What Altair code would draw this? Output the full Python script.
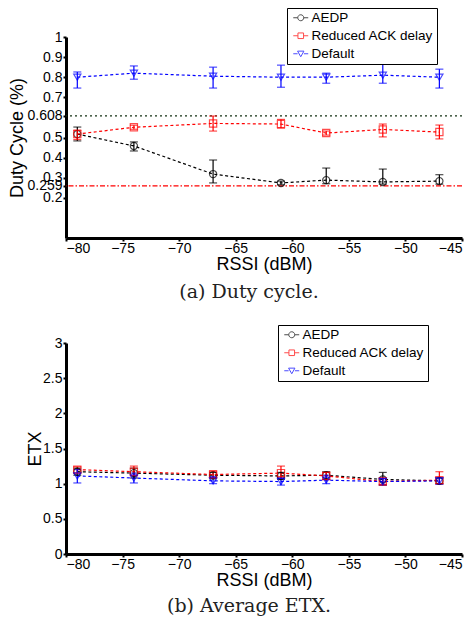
import altair as alt
import pandas as pd

# ---------------- data ----------------
rssi = [-79, -74, -67, -61, -57, -52, -47]
series_names = ["AEDP", "Reduced ACK delay", "Default"]
series_colors = ["#000000", "#ff0000", "#0000ff"]

# Duty cycle panel
dc_aedp = [0.517, 0.458, 0.318, 0.274, 0.288, 0.279, 0.283]
dc_aedp_lo = [0.483, 0.433, 0.274, 0.265, 0.270, 0.268, 0.268]
dc_aedp_hi = [0.552, 0.478, 0.388, 0.283, 0.348, 0.343, 0.315]
dc_ack = [0.517, 0.551, 0.570, 0.567, 0.522, 0.540, 0.527]
dc_ack_lo = [0.490, 0.541, 0.532, 0.547, 0.512, 0.503, 0.493]
dc_ack_hi = [0.537, 0.561, 0.607, 0.590, 0.532, 0.567, 0.562]
dc_def = [0.800, 0.820, 0.805, 0.800, 0.800, 0.810, 0.800]
dc_def_lo = [0.746, 0.790, 0.746, 0.750, 0.770, 0.770, 0.746]
dc_def_hi = [0.826, 0.856, 0.850, 0.860, 0.820, 0.870, 0.840]

dc_ref_values = [0.608, 0.259]
dc_ref_colors = ["#143214", "#ff0000"]
dc_yticks = [0.2, 0.259, 0.3, 0.4, 0.5, 0.608, 0.7, 0.8, 0.9, 1]

# ETX panel
etx_aedp = [1.17, 1.15, 1.12, 1.11, 1.12, 1.06, 1.04]
etx_aedp_lo = [1.12, 1.08, 1.07, 1.06, 1.06, 0.98, 1.00]
etx_aedp_hi = [1.22, 1.22, 1.16, 1.16, 1.17, 1.16, 1.08]
etx_ack = [1.20, 1.17, 1.13, 1.15, 1.11, 1.03, 1.05]
etx_ack_lo = [1.15, 1.11, 1.09, 1.08, 1.06, 0.99, 1.00]
etx_ack_hi = [1.24, 1.25, 1.18, 1.25, 1.16, 1.08, 1.17]
etx_def = [1.11, 1.08, 1.04, 1.03, 1.05, 1.03, 1.04]
etx_def_lo = [1.01, 1.01, 1.00, 0.98, 1.00, 0.98, 0.99]
etx_def_hi = [1.20, 1.15, 1.10, 1.08, 1.12, 1.07, 1.08]
etx_yticks = [0, 0.5, 1, 1.5, 2, 2.5, 3]

xticks = [-80, -75, -70, -65, -60, -55, -50, -45]

point_shapes = ["circle", "square", "triangle-down"]
legend_paths = [
    "M-2,0H-0.8M0.8,0H2M-0.8,0A0.8,0.8 0 1,1 0.8,0A0.8,0.8 0 1,1 -0.8,0",
    "M-2,0H-0.75M0.75,0H2M-0.75,-0.75H0.75V0.75H-0.75Z",
    "M-2,0H-0.85M0.85,0H2M-0.85,-0.7L0.85,-0.7L0,0.8Z",
]

FONT = "Liberation Sans"


def make_df(vals, los, his):
    rows = []
    for name, v, lo, hi in zip(series_names, vals, los, his):
        for x, a, b, c in zip(rssi, v, lo, hi):
            rows.append({"x": x, "y": a, "lo": b, "hi": c, "series": name})
    return pd.DataFrame(rows)


def panel(df, ymax, yticks, ytitle, title_pad, caption, cap_offset, lx, ly, height, refs=None):
    xs = alt.Scale(domain=[-80, -45], nice=False)
    ys = alt.Scale(domain=[0, ymax], nice=False)
    xax = alt.Axis(values=xticks, title="RSSI (dBM)", titlePadding=0, labelPadding=0)
    yax = alt.Axis(values=yticks, title=ytitle, labelOverlap=False,
                   labelExpr="'' + datum.value", titlePadding=title_pad,
                   labelPadding=1)
    X = alt.X("x:Q", scale=xs, axis=xax)
    Y = alt.Y("y:Q", scale=ys, axis=yax)
    cscale = alt.Scale(domain=series_names, range=series_colors)
    col = alt.Color("series:N", scale=cscale, legend=None)

    base = alt.Chart(df)
    lines = base.mark_line(strokeDash=[3, 2.5], strokeWidth=1.2).encode(X, Y, color=col)
    bars = base.mark_rule(strokeWidth=1.2).encode(X, alt.Y("lo:Q", scale=ys, axis=yax), y2="hi:Q", color=col)
    cap_lo = base.mark_tick(orient="horizontal", size=8, thickness=1.2).encode(
        X, alt.Y("lo:Q", scale=ys, axis=yax), color=col)
    cap_hi = base.mark_tick(orient="horizontal", size=8, thickness=1.2).encode(
        X, alt.Y("hi:Q", scale=ys, axis=yax), color=col)
    pts = base.mark_point(filled=False, size=52, strokeWidth=1.2).encode(
        X, Y, color=col,
        shape=alt.Shape("series:N", scale=alt.Scale(domain=series_names, range=point_shapes), legend=None))

    leg = alt.Legend(orient="none", legendX=lx, legendY=ly, title=None,
                     strokeColor="black", fillColor="white", padding=3,
                     labelFont=FONT, labelFontSize=13.5, labelColor="black",
                     symbolSize=56, symbolStrokeWidth=1, symbolOffset=4,
                     labelOffset=4, rowPadding=3)
    legend_layer = base.transform_filter("datum.x > 0").transform_calculate(
        lseries="datum.series").mark_point(filled=False).encode(
        X, Y,
        color=alt.Color("lseries:N", scale=alt.Scale(domain=series_names, range=series_colors), legend=leg),
        shape=alt.Shape("lseries:N", scale=alt.Scale(domain=series_names, range=legend_paths), legend=leg),
    )

    layers = []
    if refs is not None:
        rdf = pd.DataFrame({"v": refs[0], "c": refs[1], "k": ["a", "b"]})
        r1 = alt.Chart(rdf).transform_filter("datum.k == 'a'").mark_rule(
            strokeDash=[2, 3], strokeWidth=1.3).encode(
            y=alt.Y("v:Q", scale=ys, axis=yax), color=alt.Color("c:N", scale=None))
        r2 = alt.Chart(rdf).transform_filter("datum.k == 'b'").mark_rule(
            strokeDash=[5, 2, 1.5, 2], strokeWidth=1.3).encode(
            y=alt.Y("v:Q", scale=ys, axis=yax), color=alt.Color("c:N", scale=None))
        layers += [r1, r2]
    layers += [lines, bars, cap_lo, cap_hi, pts, legend_layer]
    ch = alt.layer(*layers).resolve_scale(color="independent", shape="independent").properties(
        width=396, height=height,
        title=alt.TitleParams(caption, orient="bottom", font="DejaVu Serif", fontSize=19,
                              fontWeight="normal", anchor="middle", dx=-15, offset=cap_offset,
                              color="#222222"),
    )
    return ch


dc_df = make_df([dc_aedp, dc_ack, dc_def], [dc_aedp_lo, dc_ack_lo, dc_def_lo], [dc_aedp_hi, dc_ack_hi, dc_def_hi])
etx_df = make_df([etx_aedp, etx_ack, etx_def], [etx_aedp_lo, etx_ack_lo, etx_def_lo], [etx_aedp_hi, etx_ack_hi, etx_def_hi])

top = panel(dc_df, 1, dc_yticks, "Duty Cycle (%)", 0, "(a) Duty cycle.", 10, 221, -29, 201,
            refs=(dc_ref_values, dc_ref_colors))
bottom = panel(etx_df, 3, etx_yticks, "ETX", -2, "(b) Average ETX.", 8, 212, -18, 211)

chart = alt.vconcat(top, bottom, spacing=22).properties(
    padding={"left": 8, "top": 7, "right": 6, "bottom": 4}
).configure_view(stroke=None).configure_axis(
    domainWidth=3, domainColor="black", tickColor="black", tickWidth=2, tickSize=3,
    labelFont=FONT, labelFontSize=14, labelColor="black",
    titleFont=FONT, titleFontSize=18, titleFontWeight="normal", titleColor="black",
    grid=False,
)

chart.save("out.html", embed_options={"renderer": "svg", "actions": False})
